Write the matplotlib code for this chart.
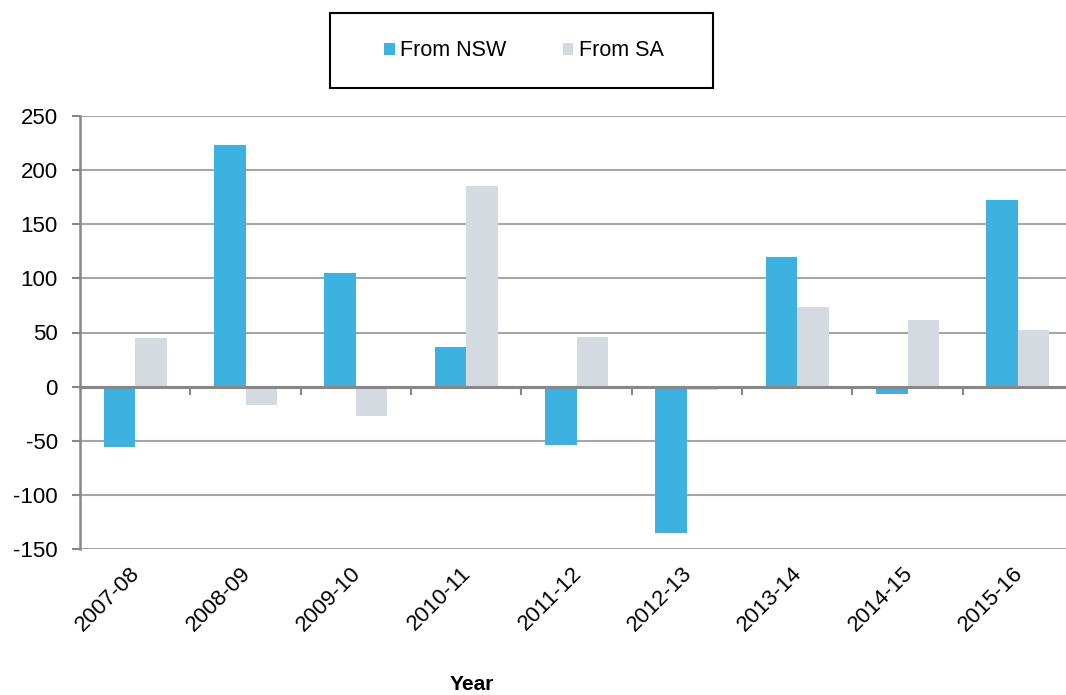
import numpy as np
import matplotlib.pyplot as plt
from matplotlib.patches import Rectangle

years = ['2007-08', '2008-09', '2009-10', '2010-11', '2011-12',
         '2012-13', '2013-14', '2014-15', '2015-16']
from_nsw = [-56, 223, 105, 37, -54, -135, 120, -7, 172]
from_sa = [45, -17, -27, 185, 46, -3, 74, 62, 52]

nsw_color = '#3DB1E0'
sa_color = '#D5D9E0'
axis_gray = '#878787'
grid_gray = '#A6A6A6'

plt.rcParams['font.family'] = ['Liberation Sans', 'DejaVu Sans']
plt.rcParams['axes.unicode_minus'] = False

fig = plt.figure(figsize=(10.66, 6.95), dpi=100)
ax = fig.add_axes([80/1066, 1 - 549/695, 993/1066, 433/695])

x = np.arange(len(years))
w = 0.285
ax.bar(x - w/2, from_nsw, w, color=nsw_color, label='From NSW', zorder=3)
ax.bar(x + w/2, from_sa, w, color=sa_color, label='From SA', zorder=3)

ax.set_xlim(-0.5, len(years) - 0.5)
ax.set_ylim(-150, 250)
ax.set_yticks(np.arange(-150, 251, 50))
ax.yaxis.grid(True, color=grid_gray, linewidth=1.5, zorder=0)
ax.set_axisbelow(True)
ax.tick_params(axis='y', labelsize=16, length=6, width=1.5, color=axis_gray, pad=10)

for s in ['top', 'right']:
    ax.spines[s].set_visible(False)
ax.spines['left'].set_color(axis_gray)
ax.spines['left'].set_linewidth(1.8)
ax.spines['left'].set_zorder(4)
ax.spines['bottom'].set_position(('data', 0))
ax.spines['bottom'].set_color(axis_gray)
ax.spines['bottom'].set_linewidth(2.2)
ax.spines['bottom'].set_zorder(4)

# category boundary ticks on the zero line
ax.set_xticks(x[:-1] + 0.5, minor=True)
ax.set_xticks([])
ax.tick_params(axis='x', which='minor', length=6, width=1.5, color=axis_gray, direction='out')

# labels along the bottom
sec = ax.secondary_xaxis('bottom')
sec.set_xticks(x - 0.05)
sec.set_xticklabels(years, rotation=45, ha='right', rotation_mode='anchor', fontsize=16)
sec.tick_params(length=0, pad=10)
sec.spines['bottom'].set_visible(False)

fig.text(472/1066, 1 - 684/695, 'Year', ha='center', va='center', fontsize=15,
         weight='bold')

fig.patches.append(Rectangle((330/1066, 1 - 88/695), 383/1066, 75/695,
                             transform=fig.transFigure, fill=False,
                             edgecolor='black', linewidth=1.5))
fig.legend(loc='center', bbox_to_anchor=(524/1066, 1 - 51/695), ncol=2, frameon=False,
           fontsize=15.5, handlelength=0.5, handleheight=0.5, handletextpad=0.25,
           columnspacing=2.6)

fig.savefig('out.png', dpi=100)
